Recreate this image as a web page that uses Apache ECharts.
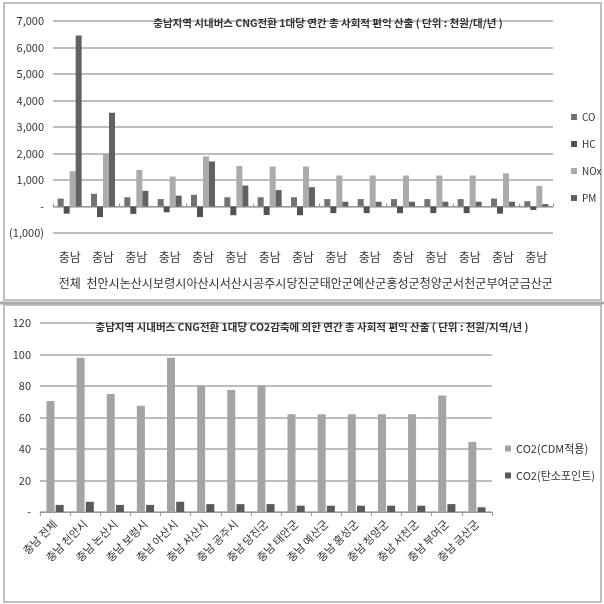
<!DOCTYPE html>
<html>
<head>
<meta charset="utf-8">
<script src="https://cdn.jsdelivr.net/npm/echarts@6/dist/echarts.min.js"></script>
<style>
  html, body { margin: 0; padding: 0; background: #fff; }
  #chart { width: 604px; height: 604px; }
</style>
</head>
<body>
<div id="chart"></div>
<script>
// 지역 (top chart uses two-line labels, bottom chart one line)
const regions = ['전체', '천안시', '논산시', '보령시', '아산시', '서산시', '공주시', '당진군',
  '태안군', '예산군', '홍성군', '청양군', '서천군', '부여군', '금산군'];

// 1대당 연간 총 사회적 편익 (천원/대/년)
const co = [300, 480, 350, 280, 440, 350, 350, 350, 280, 280, 280, 280, 280, 300, 200];
const hc = [-270, -400, -280, -220, -400, -330, -320, -330, -250, -250, -250, -250, -250, -270, -130];
const nox = [1330, 2000, 1380, 1130, 1890, 1530, 1510, 1510, 1170, 1170, 1170, 1170, 1170, 1250, 780];
const pm = [6450, 3540, 590, 410, 1700, 790, 620, 730, 180, 180, 180, 180, 180, 180, 90];

// CO2감축 편익 (천원/지역/년)
const co2Cdm = [70.5, 98, 75, 67.5, 98, 80.5, 77.5, 80.5, 62, 62, 62, 62, 62, 74, 44.5];
const co2Point = [4.5, 6.5, 4.5, 4.5, 6.5, 5, 5, 5, 4, 4, 4, 4, 4, 5, 3];

const topLabels = regions.map(r => '충남\n' + r);
const bottomLabels = regions.map(r => '충남 ' + r);

const font = '"Noto Sans CJK KR", "Noto Sans", sans-serif';
const gridColor = '#a8a8a8';

function fmtTop(v) {
  if (v === 0) return '-';
  const s = Math.abs(v).toLocaleString('en-US');
  return v < 0 ? '(' + s + ')' : s;
}

const chart = echarts.init(document.getElementById('chart'));
chart.setOption({
  backgroundColor: '#fff',
  textStyle: { fontFamily: font, color: '#333' },
  animation: false,
  title: [{
    text: '충남지역 시내버스 CNG전환 1대당 연간 총 사회적 편익 산출 ( 단위 : 천원/대/년 )',
    left: 323, top: 13, textAlign: 'center',
    textStyle: { fontSize: 10.5, fontWeight: 'bold', color: '#333', fontFamily: font }
  }, {
    text: '충남지역 시내버스 CNG전환 1대당 CO2감축에 의한 연간 총 사회적 편익 산출 ( 단위 : 천원/지역/년 )',
    left: 307, top: 317, textAlign: 'center',
    textStyle: { fontSize: 10.5, fontWeight: 'bold', color: '#333', fontFamily: font }
  }],
  legend: [{
    data: ['CO', 'HC', 'NOx', 'PM'],
    orient: 'vertical', left: 566, top: 107, icon: 'rect',
    itemWidth: 6, itemHeight: 6, itemGap: 17,
    textStyle: { fontSize: 10, color: '#333', fontFamily: font }
  }, {
    data: ['CO2(CDM적용)', 'CO2(탄소포인트)'],
    orient: 'vertical', left: 500, top: 438, icon: 'rect',
    itemWidth: 6, itemHeight: 6, itemGap: 16,
    textStyle: { fontSize: 11, color: '#333', fontFamily: font }
  }],
  grid: [
    { left: 53, top: 21, width: 500, height: 212 },
    { left: 40, top: 323, width: 452, height: 189 }
  ],
  xAxis: [{
    gridIndex: 0, type: 'category', data: topLabels,
    axisLine: { show: false, onZero: false },
    axisTick: { show: false },
    axisLabel: { interval: 0, fontSize: 12, lineHeight: 26, margin: 11, color: '#333' }
  }, {
    gridIndex: 0, type: 'category', data: topLabels,
    axisLine: { onZero: true, lineStyle: { color: '#999' } },
    axisTick: { show: true, length: 3, lineStyle: { color: '#999' } },
    axisLabel: { show: false }
  }, {
    gridIndex: 1, type: 'category', data: bottomLabels,
    axisLine: { lineStyle: { color: '#999' } },
    axisTick: { show: true, length: 4, lineStyle: { color: '#999' } },
    axisLabel: { interval: 0, rotate: 45, fontSize: 11, margin: 10, color: '#333' }
  }],
  yAxis: [{
    gridIndex: 0, type: 'value', min: -1000, max: 7000, interval: 1000,
    axisLine: { show: false }, axisTick: { show: false },
    splitLine: { lineStyle: { color: gridColor, width: 1.5 } },
    axisLabel: { formatter: fmtTop, fontSize: 11, margin: 9, color: '#333' }
  }, {
    gridIndex: 1, type: 'value', min: 0, max: 120, interval: 20,
    axisLine: { show: false }, axisTick: { show: false },
    splitLine: { lineStyle: { color: gridColor, width: 1.5 } },
    axisLabel: { formatter: v => v === 0 ? '-' : v, fontSize: 11, margin: 9, color: '#333' }
  }],
  series: [
    { name: 'CO', type: 'bar', xAxisIndex: 0, yAxisIndex: 0, data: co,
      barWidth: 6, barGap: '0%', itemStyle: { color: '#727272' } },
    { name: 'HC', type: 'bar', xAxisIndex: 0, yAxisIndex: 0, data: hc,
      barWidth: 6, barGap: '0%', itemStyle: { color: '#525252' } },
    { name: 'NOx', type: 'bar', xAxisIndex: 0, yAxisIndex: 0, data: nox,
      barWidth: 6, barGap: '0%', itemStyle: { color: '#ababab' } },
    { name: 'PM', type: 'bar', xAxisIndex: 0, yAxisIndex: 0, data: pm,
      barWidth: 6, barGap: '0%', itemStyle: { color: '#626262' } },
    { name: 'CO2(CDM적용)', type: 'bar', xAxisIndex: 2, yAxisIndex: 1, data: co2Cdm,
      barWidth: 8, barGap: '15%', itemStyle: { color: '#a4a4a4' } },
    { name: 'CO2(탄소포인트)', type: 'bar', xAxisIndex: 2, yAxisIndex: 1, data: co2Point,
      barWidth: 8, barGap: '15%', itemStyle: { color: '#5a5a5a' } }
  ],
  graphic: [
    { type: 'rect', shape: { x: 4, y: 3, width: 597, height: 297 },
      style: { fill: 'none', stroke: '#aaa', lineWidth: 1.5 }, silent: true },
    { type: 'line', shape: { x1: 0, y1: 303, x2: 604, y2: 303 },
      style: { stroke: '#aaa', lineWidth: 3 }, silent: true },
    { type: 'rect', shape: { x: 4, y: 305, width: 597, height: 297 },
      style: { fill: 'none', stroke: '#aaa', lineWidth: 1.5 }, silent: true }
  ]
});
</script>
</body>
</html>
